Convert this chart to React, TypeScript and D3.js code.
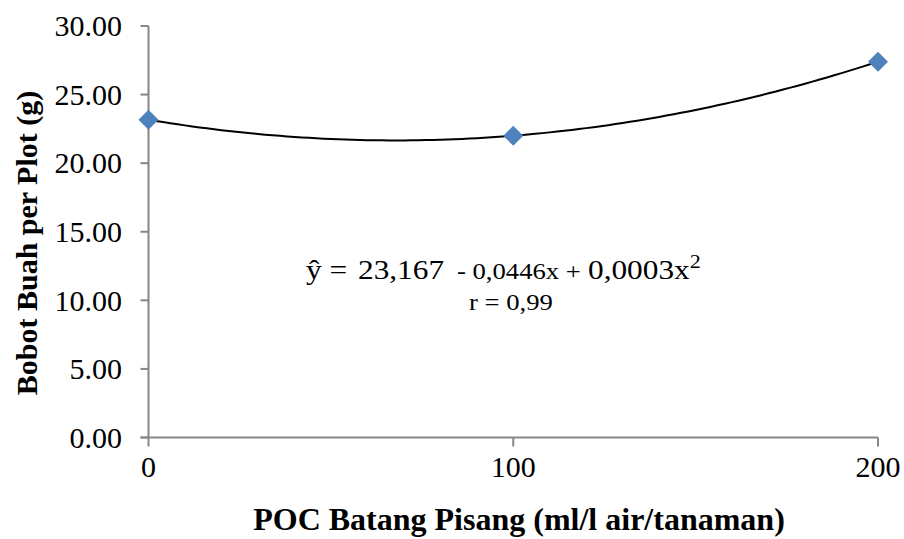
import React from "react";
import * as d3 from "d3";

const doses = [0, 100, 200];
const weights = [23.167, 22.0, 27.4];
const yTicks = [0, 5, 10, 15, 20, 25, 30];
const xTicks = [0, 100, 200];

// quadratic least-squares fit through the data points (Excel-style polynomial trendline)
function quadFit(xs: number[], ys: number[]) {
  const n = xs.length;
  let s1 = 0, s2 = 0, s3 = 0, s4 = 0, t0 = 0, t1 = 0, t2 = 0;
  for (let i = 0; i < n; i++) {
    const x = xs[i], y = ys[i];
    s1 += x; s2 += x * x; s3 += x ** 3; s4 += x ** 4;
    t0 += y; t1 += x * y; t2 += x * x * y;
  }
  const M = [
    [n, s1, s2, t0],
    [s1, s2, s3, t1],
    [s2, s3, s4, t2],
  ];
  for (let i = 0; i < 3; i++) {
    for (let j = i + 1; j < 3; j++) {
      const f = M[j][i] / M[i][i];
      for (let k = i; k < 4; k++) M[j][k] -= f * M[i][k];
    }
  }
  const c = [0, 0, 0];
  for (let i = 2; i >= 0; i--) {
    let s = M[i][3];
    for (let k = i + 1; k < 3; k++) s -= M[i][k] * c[k];
    c[i] = s / M[i][i];
  }
  return (x: number) => c[0] + c[1] * x + c[2] * x * x;
}

export default function App() {
  const W = 904, H = 539;
  const x = d3.scaleLinear().domain([0, 200]).range([148.5, 878]);
  const y = d3.scaleLinear().domain([0, 30]).range([437.5, 26]);
  const f = quadFit(doses, weights);
  const curvePts = d3.range(0, 200.01, 2).map((v) => [v, f(v)] as [number, number]);
  const line = d3.line<[number, number]>().x((d) => x(d[0])).y((d) => y(d[1]));
  const axisColor = "#868686";
  const fs = { fontFamily: "'Liberation Serif', 'Times New Roman', serif" };
  const m = 10;
  const sx = 1.16;
  return (
    <svg width={W} height={H} style={{ position: "absolute", left: 0, top: 0, background: "#fff" }}>
      {/* y axis */}
      <line x1={x(0)} x2={x(0)} y1={y(30)} y2={y(0)} stroke={axisColor} strokeWidth={2} />
      {yTicks.map((t) => (
        <g key={t}>
          <line x1={x(0) - 8} x2={x(0)} y1={y(t)} y2={y(t)} stroke={axisColor} strokeWidth={2} />
          <text x={122} y={y(t)} dy="0.34em" textAnchor="end" fontSize={30} fill="#000" style={fs}>
            {t.toFixed(2)}
          </text>
        </g>
      ))}
      {/* x axis */}
      <line x1={x(0) - 8} x2={x(200)} y1={y(0)} y2={y(0)} stroke={axisColor} strokeWidth={2} />
      {xTicks.map((t) => (
        <g key={t}>
          <line x1={x(t)} x2={x(t)} y1={y(0)} y2={y(0) + 9} stroke={axisColor} strokeWidth={2} />
          <text x={x(t)} y={477} textAnchor="middle" fontSize={30} fill="#000" style={fs}>
            {t}
          </text>
        </g>
      ))}
      {/* trend line */}
      <path d={line(curvePts) || ""} fill="none" stroke="#000" strokeWidth={2} />
      {/* markers */}
      {doses.map((d, i) => (
        <path
          key={d}
          d={`M${x(d)},${y(weights[i]) - m}L${x(d) + m},${y(weights[i])}L${x(d)},${y(weights[i]) + m}L${x(d) - m},${y(weights[i])}Z`}
          fill="#4F81BD"
        />
      ))}
      {/* equation */}
      <g transform={`translate(306,279) scale(${sx},1)`}>
        <text x={0} y={0} fontSize={27} fill="#000" style={fs}>
          <tspan>ŷ =</tspan>
          <tspan x={(358 - 306) / sx}>23,167</tspan>
          <tspan x={(457 - 306) / sx} fontSize={23}>- 0,0446x +</tspan>
          <tspan x={(588 - 306) / sx}>0,0003x</tspan>
          <tspan fontSize={19} dy={-11}>2</tspan>
        </text>
      </g>
      <g transform={`translate(511,310) scale(${sx},1)`}>
        <text x={0} y={0} textAnchor="middle" fontSize={23} fill="#000" style={fs}>
          r = 0,99
        </text>
      </g>
      {/* axis titles */}
      <text x={519} y={530} textAnchor="middle" fontSize={32} fontWeight="bold" fill="#000" style={fs}>
        POC Batang Pisang (ml/l air/tanaman)
      </text>
      <text transform={`translate(37,243) rotate(-90)`} textAnchor="middle" fontSize={30} fontWeight="bold" fill="#000" style={fs}>
        Bobot Buah per Plot (g)
      </text>
    </svg>
  );
}
